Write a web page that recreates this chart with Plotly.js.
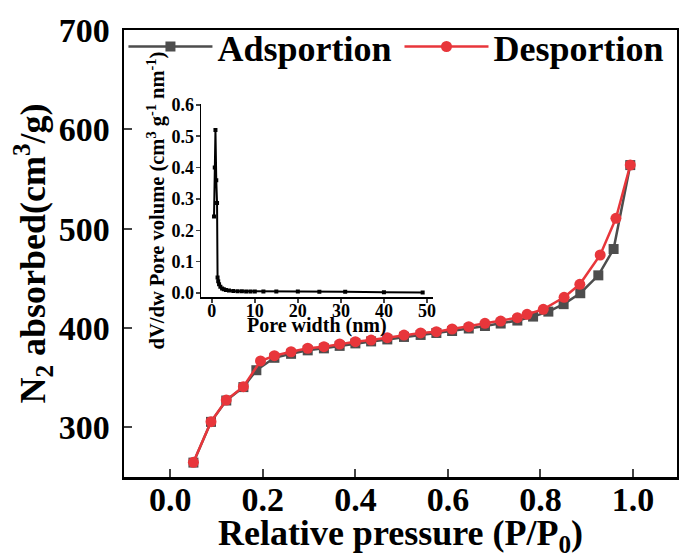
<!DOCTYPE html>
<html>
<head>
<meta charset="utf-8">
<script src="https://cdn.plot.ly/plotly-3.0.1.min.js"></script>
<style>html,body{margin:0;padding:0;background:#fff;}#chart{width:679px;height:558px;}</style>
</head>
<body>
<div id="chart"></div>
<script>
// Main isotherm data (P/P0, cm3/g)
const adsX = [0.050, 0.088, 0.121, 0.158, 0.186, 0.225, 0.261, 0.297, 0.332, 0.366, 0.400, 0.434, 0.469, 0.505, 0.541, 0.575, 0.609, 0.645, 0.680, 0.714, 0.750, 0.784, 0.817, 0.850, 0.886, 0.925, 0.958, 0.994];
const adsY = [264.5, 305.5, 327, 340.5, 357.5, 370, 374, 377.5, 379.5, 382, 384.5, 386.5, 388.5, 391, 393, 395, 397, 399.5, 402, 404.5, 407.5, 411.5, 416.5, 424, 435, 453, 479.5, 564];
const desX = [0.050, 0.088, 0.121, 0.158, 0.195, 0.225, 0.261, 0.297, 0.332, 0.366, 0.400, 0.434, 0.469, 0.505, 0.541, 0.575, 0.609, 0.645, 0.680, 0.714, 0.750, 0.771, 0.806, 0.851, 0.885, 0.929, 0.963, 0.994];
const desY = [264.8, 305.7, 327.5, 340.9, 366.8, 372.1, 376.1, 379.6, 381.2, 383.9, 386.2, 387.9, 390.2, 392.9, 395, 396.3, 399, 401.3, 404.7, 407, 410.4, 413.8, 418.8, 430.9, 444, 473.5, 510.4, 564.1];
// Inset pore size distribution (nm, cm3 g-1 nm-1)
const poreX = [0.53, 0.7, 0.86, 1.05, 1.23, 1.35, 1.5, 1.7, 2.0, 2.4, 2.8, 3.3, 4, 5, 6, 7, 8, 9, 10, 12, 15, 20, 25, 31, 40, 49];
const poreY = [0.244, 0.40, 0.52, 0.36, 0.287, 0.05, 0.038, 0.028, 0.02, 0.015, 0.012, 0.01, 0.008, 0.007, 0.006, 0.006, 0.005, 0.005, 0.005, 0.005, 0.005, 0.005, 0.004, 0.004, 0.003, 0.002];
const mainXTicks = [0.0, 0.2, 0.4, 0.6, 0.8, 1.0];
const mainYTicks = [300, 400, 500, 600, 700];
const insetXTicks = [0, 10, 20, 30, 40, 50];
const insetYTicks = [0.0, 0.1, 0.2, 0.3, 0.4, 0.5, 0.6];

const FONT = 'Liberation Serif, Times New Roman, serif';
const traces = [
  {x: adsX, y: adsY, name: 'Adsportion\u200a', type: 'scatter', mode: 'lines+markers',
   line: {color: '#4d4d4d', width: 2.5}, marker: {symbol: 'square', size: 10, color: '#4d4d4d'}},
  {x: desX, y: desY, name: 'Desportion', type: 'scatter', mode: 'lines+markers',
   line: {color: '#e8363b', width: 2.5}, marker: {symbol: 'circle', size: 11, color: '#e8363b'}},
  {x: poreX, y: poreY, xaxis: 'x2', yaxis: 'y2', type: 'scatter', mode: 'lines+markers', showlegend: false,
   line: {color: '#000', width: 2}, marker: {symbol: 'square', size: 4, color: '#000'}}
];
const layout = {
  width: 679, height: 558,
  margin: {l: 124, r: 2, t: 30, b: 81},
  paper_bgcolor: '#fff', plot_bgcolor: 'rgba(0,0,0,0)',
  font: {family: FONT, color: '#000', weight: 'bold'},
  showlegend: true,
  legend: {orientation: 'h', x: -0.001, y: 1.03, xanchor: 'left', yanchor: 'top',
    font: {size: 36, family: FONT, weight: 'bold'}, bgcolor: 'rgba(0,0,0,0)', itemwidth: 84},
  xaxis: {range: [-0.1, 1.095], tickvals: mainXTicks, ticktext: mainXTicks.map(v => v.toFixed(1)),
    ticks: 'inside', ticklen: 8, tickwidth: 2, showline: true, linewidth: 2.5, linecolor: '#000', mirror: true,
    showgrid: false, zeroline: false, tickfont: {size: 34, family: FONT, weight: 'bold'}, ticklabelstandoff: -9,
    title: {text: 'Relative pressure (P/P<sub>0</sub>)', font: {size: 36, family: FONT, weight: 'bold'}, standoff: 4}},
  yaxis: {range: [250, 700], tickvals: mainYTicks, ticktext: mainYTicks.map(String),
    ticks: 'inside', ticklen: 8, tickwidth: 2, showline: true, linewidth: 2.5, linecolor: '#000', mirror: true,
    showgrid: false, zeroline: false, tickfont: {size: 34, family: FONT, weight: 'bold'}, ticklabelstandoff: 5,
    title: {text: 'N<sub>2</sub> absorbed(cm<sup>3</sup>/g)', font: {size: 36, family: FONT, weight: 'bold'}, standoff: 2}},
  xaxis2: {domain: [0.140, 0.558], anchor: 'y2', range: [-2.4, 51.3], tickvals: insetXTicks, ticktext: insetXTicks.map(String),
    ticks: 'outside', ticklen: 4, tickwidth: 1.5, showline: true, linewidth: 1.8, linecolor: '#000',
    showgrid: false, zeroline: false, tickfont: {size: 18, family: FONT, weight: 'bold'}, ticklabelstandoff: -7},
  yaxis2: {domain: [0.403, 0.834], anchor: 'x2', range: [-0.012, 0.602], tickvals: insetYTicks, ticktext: insetYTicks.map(v => v.toFixed(1)),
    ticks: 'outside', ticklen: 4, tickwidth: 1.5, showline: true, linewidth: 1.8, linecolor: '#000',
    showgrid: false, zeroline: false, tickfont: {size: 18, family: FONT, weight: 'bold'}, ticklabelstandoff: -2,
    title: {text: 'dV/dw Pore volume (cm<sup>3</sup> g<sup>-1</sup> nm<sup>-1</sup>)', font: {size: 20.5, family: FONT, weight: 'bold'}, standoff: 1}},
  annotations: [
    {text: 'Pore width (nm)', xref: 'x2 domain', x: 0.5, yref: 'paper', y: 0.340, xanchor: 'center', yanchor: 'middle',
     showarrow: false, font: {size: 20, family: FONT, weight: 'bold', color: '#000'}}
  ]
};
Plotly.newPlot('chart', traces, layout, {displayModeBar: false, staticPlot: true});
</script>
</body>
</html>
